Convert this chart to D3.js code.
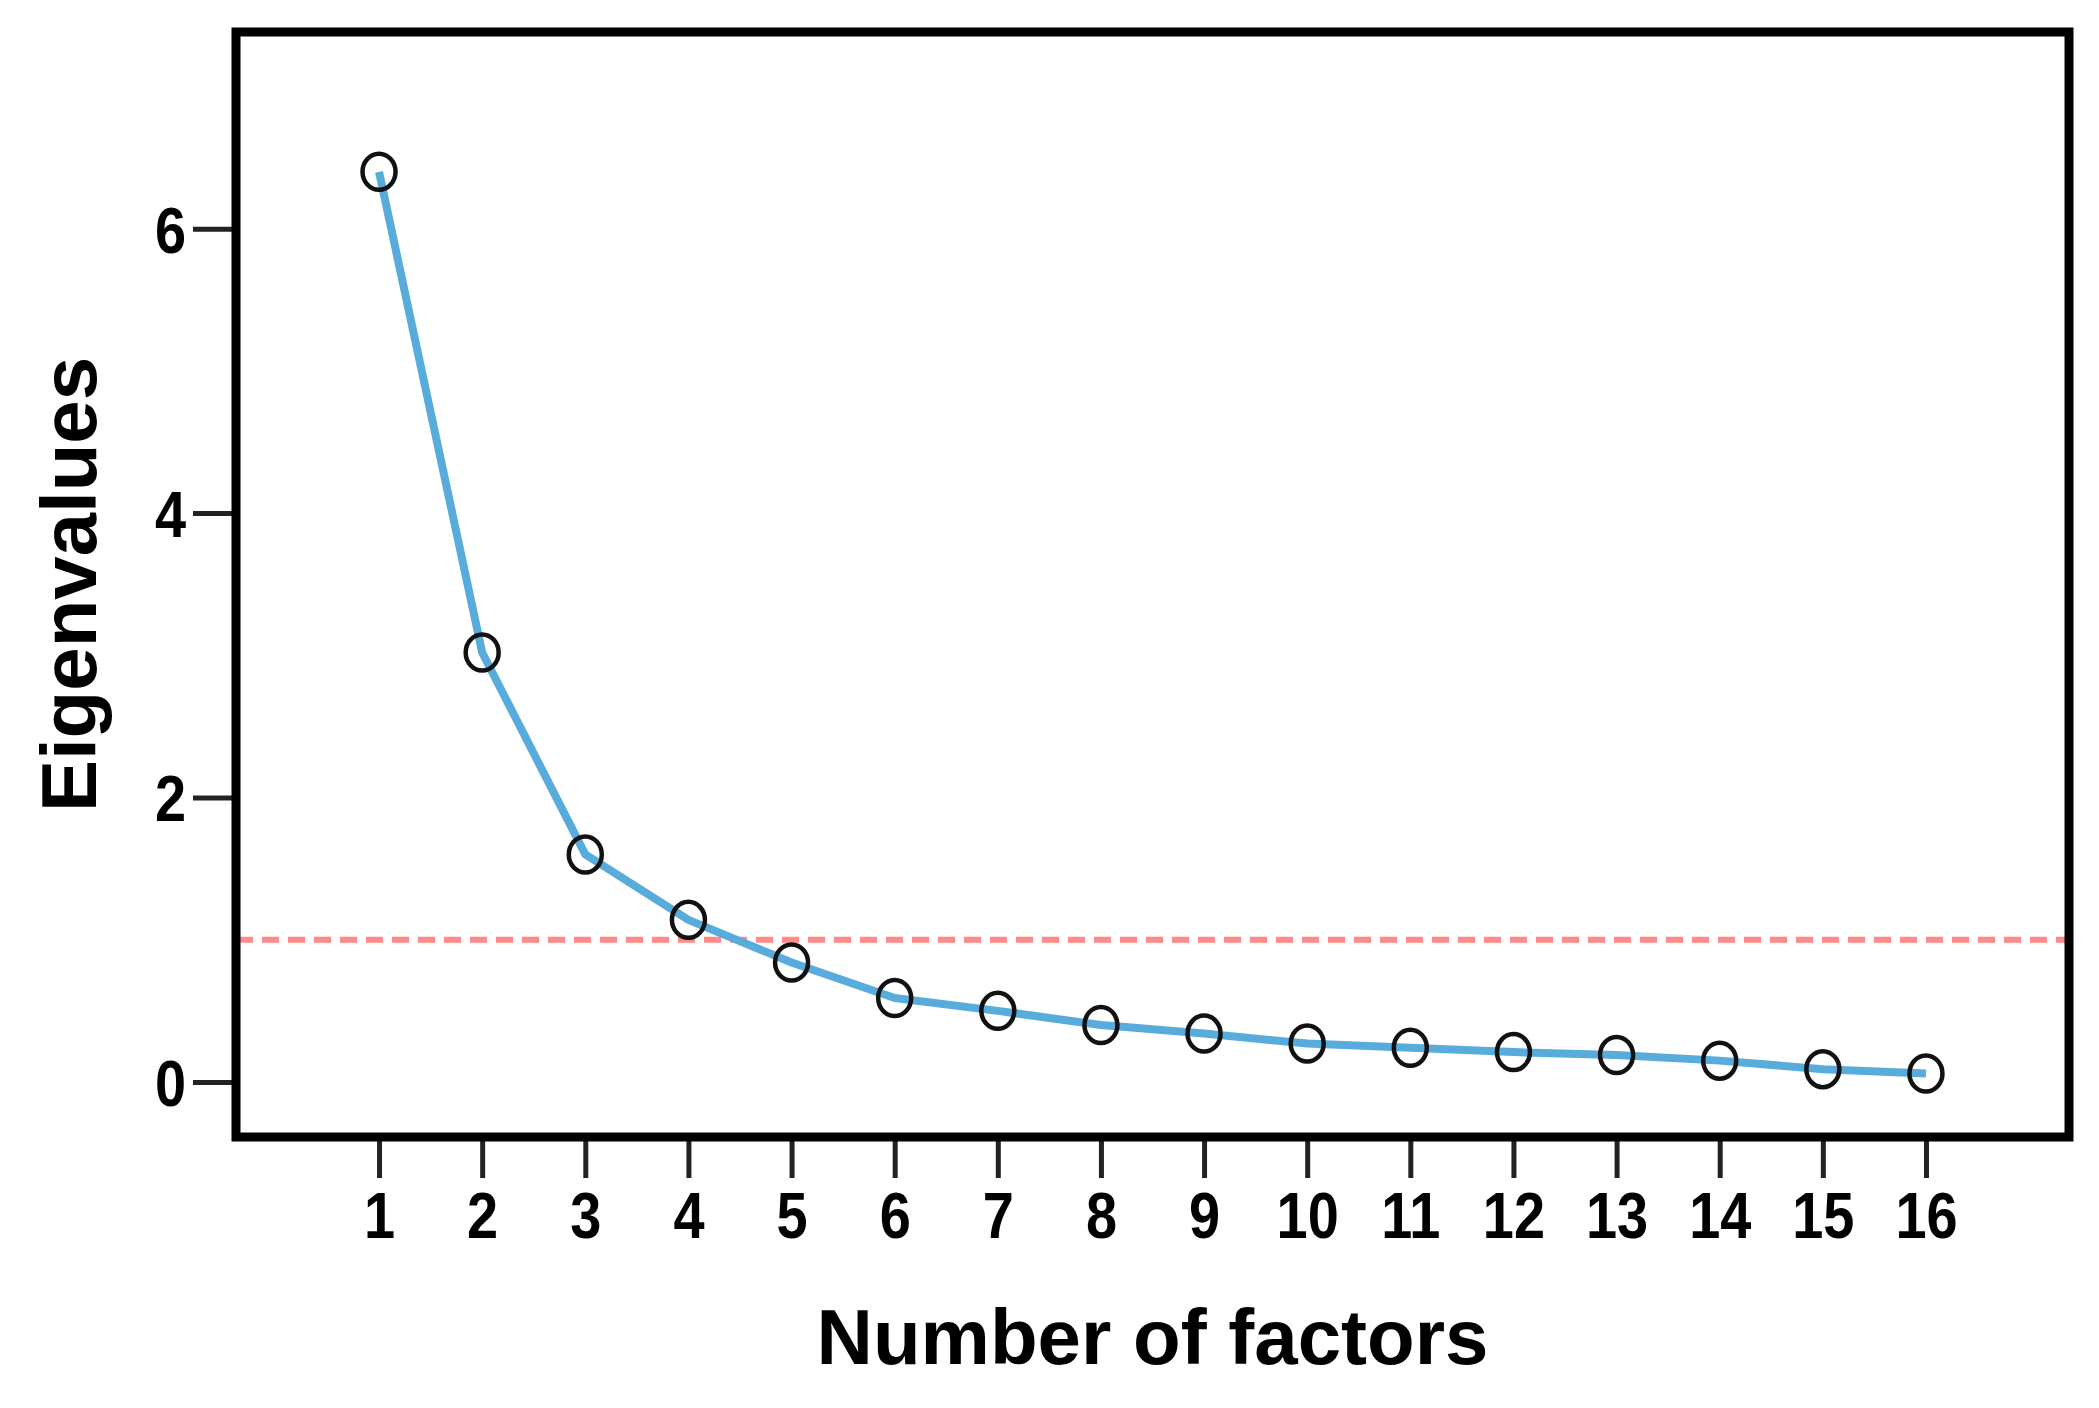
<!DOCTYPE html>
<html>
<head>
<meta charset="utf-8">
<script src="https://cdn.jsdelivr.net/npm/d3@7"></script>
<style>
  body { margin: 0; background: #fff; }
  svg text { font-family: "Liberation Sans", Arial, sans-serif; font-weight: bold; fill: #000; }
</style>
</head>
<body>
<svg id="chart" width="2099" height="1408"></svg>
<script>
const factors = d3.range(1, 17);
const eigenvalues = [6.40, 3.02, 1.60, 1.14, 0.84, 0.59, 0.50, 0.40, 0.34, 0.27, 0.24, 0.21, 0.19, 0.15, 0.09, 0.06];
const yTicks = [0, 2, 4, 6];
const cutoff = 1;
const xTitle = "Number of factors";
const yTitle = "Eigenvalues";

const svg = d3.select("#chart");

// plot frame, pixel box of the panel
const plotL = 236, plotR = 2069, plotT = 32, plotB = 1137;

const x = d3.scaleLinear().domain([-0.387, 17.387]).range([plotL, plotR]);
const y = d3.scaleLinear().domain([-0.387, 7.383]).range([plotB, plotT]);

// y axis
const yAxis = svg.append("g")
  .attr("transform", `translate(${plotL},0)`)
  .call(d3.axisLeft(y).tickValues(yTicks).tickSize(43).tickPadding(7).tickFormat(d3.format("d")));
yAxis.select(".domain").remove();
yAxis.selectAll(".tick line").attr("stroke", "#222").attr("stroke-width", 5);
yAxis.selectAll(".tick text")
  .attr("font-size", 65)
  .attr("x", 0)
  .attr("dy", "0.36em")
  .attr("transform", "translate(-50,0) scale(0.86,1)")
  .attr("fill", "#000");

// x axis
const xAxis = svg.append("g")
  .attr("transform", `translate(0,${plotB})`)
  .call(d3.axisBottom(x).tickValues(factors).tickSize(41).tickPadding(14).tickFormat(d3.format("d")));
xAxis.select(".domain").remove();
xAxis.selectAll(".tick line").attr("stroke", "#222").attr("stroke-width", 5);
xAxis.selectAll(".tick text")
  .attr("font-size", 65)
  .attr("dy", "0.71em")
  .attr("transform", "scale(0.86,1)")
  .attr("fill", "#000");

// cutoff line at eigenvalue 1
svg.append("line")
  .attr("x1", plotL).attr("x2", plotR)
  .attr("y1", y(cutoff)).attr("y2", y(cutoff))
  .attr("stroke", "#ff8a8a")
  .attr("stroke-width", 6)
  .attr("stroke-dasharray", "17,9");

// scree line
const line = d3.line()
  .x((d, i) => x(factors[i]))
  .y(d => y(d));

svg.append("path")
  .datum(eigenvalues)
  .attr("d", line)
  .attr("fill", "none")
  .attr("stroke", "#58acdc")
  .attr("stroke-width", 8)
  .attr("stroke-linejoin", "round");

svg.append("g")
  .selectAll("ellipse")
  .data(eigenvalues)
  .enter()
  .append("ellipse")
  .attr("cx", (d, i) => x(factors[i]))
  .attr("cy", d => y(d))
  .attr("rx", 16.5)
  .attr("ry", 18)
  .attr("fill", "none")
  .attr("stroke", "#111")
  .attr("stroke-width", 4.5);

// frame
svg.append("rect")
  .attr("x", plotL).attr("y", plotT)
  .attr("width", plotR - plotL).attr("height", plotB - plotT)
  .attr("fill", "none")
  .attr("stroke", "#000")
  .attr("stroke-width", 9);

// titles
svg.append("text")
  .attr("x", (plotL + plotR) / 2)
  .attr("y", 1364)
  .attr("text-anchor", "middle")
  .attr("font-size", 78)
  .text(xTitle);

svg.append("text")
  .attr("transform", `translate(96,${(plotT + plotB) / 2}) rotate(-90)`)
  .attr("text-anchor", "middle")
  .attr("font-size", 78)
  .text(yTitle);
</script>
</body>
</html>
